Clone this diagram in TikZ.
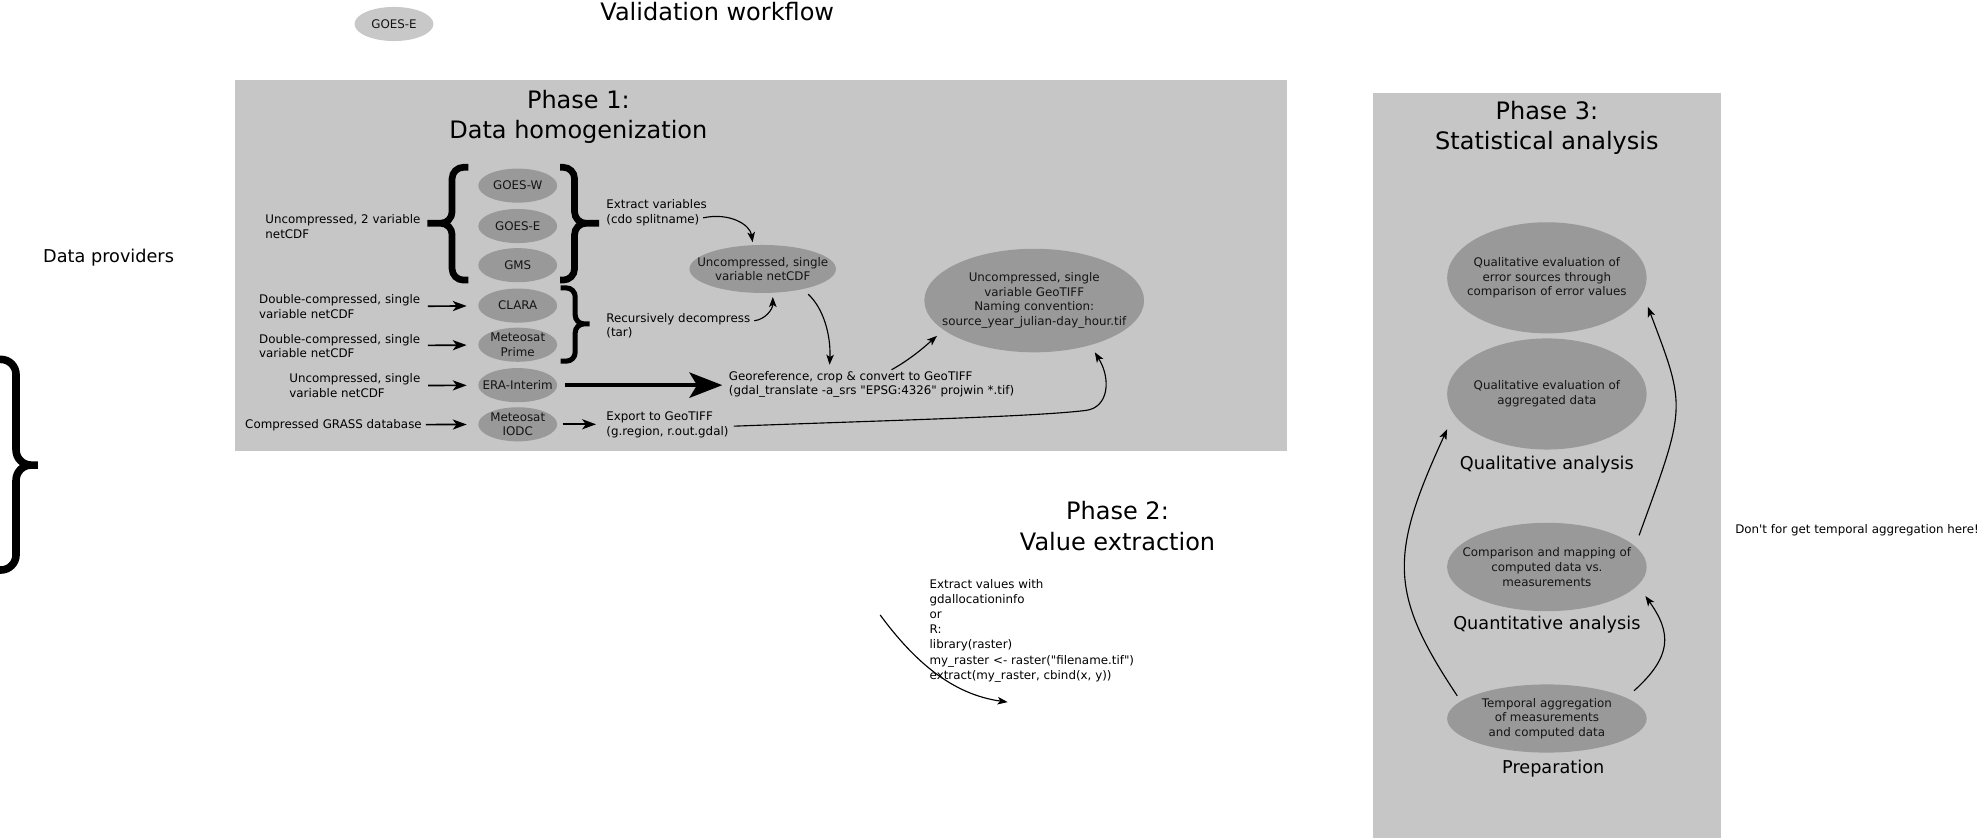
\documentclass[tikz,border=0pt]{standalone}
\usepackage{fontspec}
\setmainfont{DejaVu Sans}
\newfontfamily\dv{DejaVu Sans}
\usetikzlibrary{shapes.geometric,arrows.meta,calc}
\definecolor{boxgray}{HTML}{C6C6C6}
\definecolor{ellgray}{HTML}{999999}
\definecolor{lightell}{HTML}{C8C8C8}
\begin{document}
\begin{tikzpicture}[x=1pt,y=-1pt,
  txt/.style={font=\dv\fontsize{9.4}{11.6}\selectfont, inner sep=0pt, align=left, yshift=-1.5pt},
  ttl/.style={font=\dv\fontsize{19}{24}\selectfont, inner sep=0pt, align=center, yshift=-1.5pt},
  sub/.style={font=\dv\fontsize{14}{17}\selectfont, inner sep=0pt, yshift=-2pt},
  ell/.style={ellipse, fill=ellgray, inner sep=-8pt, minimum width=62.5pt, minimum height=27pt,
              font=\dv\fontsize{9.4}{11.6}\selectfont, align=center, text=black!92, yshift=-1pt},
  bigell/.style={ellipse, fill=ellgray, inner sep=-12pt, minimum width=158pt,
              font=\dv\fontsize{9.4}{11.6}\selectfont, align=center, text=black!92, yshift=-1pt},
  arr/.style={line width=0.9pt, -{Stealth[length=8pt,width=6pt,inset=2pt]}},
  larr/.style={line width=1.3pt, -{Stealth[length=11pt,width=8pt,inset=3pt]}, shorten >=9pt},
  bracestroke/.style={line width=5.3pt, rounded corners=9pt}
]
\useasboundingbox (0,0) rectangle (1568,663.6);

% backgrounds
\fill[boxgray] (186,63) rectangle (1019,357);
\fill[boxgray] (1087,74) rectangle (1362.5,663.6);

% top
\node[ell, fill=lightell] (goesTop) at (312,18) {GOES-E};
\node[ttl] (title) at (568,7.5) {Validation workflow};
\node[sub] (prov) at (86,202) {Data providers};
\draw[bracestroke, line width=6pt, rounded corners=12pt]
  (-6,284.6) -- (12.7,284.6) -- (12.7,368.3) -- (30,368.3)
  (30,368.3) -- (12.7,368.3) -- (12.7,451.4) -- (-6,451.4);

% Phase 1
\node[ttl] (p1) at (458,91) {Phase 1:\\Data homogenization};

\node[ell] (goesW) at (410,146) {GOES-W};
\node[ell] (goesE) at (410,178) {GOES-E};
\node[ell] (gms)   at (410,209) {GMS};
\node[ell] (clara) at (410,241) {CLARA};
\node[ell] (mprime) at (410,272) {Meteosat\\Prime};
\node[ell] (era)   at (410,304) {ERA-Interim};
\node[ell] (iodc)  at (410,335) {Meteosat\\IODC};

\node[txt, anchor=west] (l1) at (210,178) {Uncompressed, 2 variable\\netCDF};
\node[txt, anchor=west] (l2) at (205,241.5) {Double-compressed, single\\variable netCDF};
\node[txt, anchor=west] (l3) at (205,272.5) {Double-compressed, single\\variable netCDF};
\node[txt, anchor=west] (l4) at (229,304) {Uncompressed, single\\variable netCDF};
\node[txt, anchor=west] (l5) at (194,335) {Compressed GRASS database};

\draw[larr, shorten <=6pt] (l2) -- (clara);
\draw[larr, shorten <=6pt] (l3) -- (mprime);
\draw[larr, shorten <=6pt] (l4) -- (era);
\draw[larr, shorten <=3pt] (l5) -- (iodc);

% braces
\draw[bracestroke]
  (371,132.5) -- (358,132.5) -- (358,176.8) -- (338.5,176.8)
  (338.5,176.8) -- (358,176.8) -- (358,221.8) -- (371,221.8);
\draw[bracestroke]
  (443.5,132.5) -- (455,132.5) -- (455,176.8) -- (474.5,176.8)
  (474.5,176.8) -- (455,176.8) -- (455,221.8) -- (443.5,221.8);
\draw[bracestroke, line width=4pt, rounded corners=7pt]
  (444,228) -- (455.5,228) -- (455.5,256.5) -- (467,256.5)
  (467,256.5) -- (455.5,256.5) -- (455.5,286) -- (444,286);

\node[txt, anchor=west] (ext) at (480,167) {Extract variables\\(cdo splitname)};
\node[ell, minimum width=116pt, minimum height=38pt, inner sep=-12pt] (nc) at (604,212) {Uncompressed, single\\variable netCDF};
\node[txt, anchor=west] (dec) at (480,256.5) {Recursively decompress\\(tar)};
\node[txt, anchor=west] (geo) at (577,303) {Georeference, crop \& convert to GeoTIFF\\(gdal\_translate -a\_srs "EPSG:4326" projwin *.tif)};
\node[ell, minimum width=174pt, minimum height=82pt, inner sep=-12pt] (tif) at (819,237) {Uncompressed, single\\variable GeoTIFF\\Naming convention:\\source\_year\_julian-day\_hour.tif};
\node[txt, anchor=west] (exp) at (480,335) {Export to GeoTIFF\\(g.region, r.out.gdal)};

\draw[arr] ($(ext.east)+(-3,4)$) .. controls (578,168) and (594,178) .. ($(nc.north)+(-8,-2)$);
\draw[arr] ($(dec.east)+(3,-4)$) .. controls (606,253) and (612,245) .. ($(nc.south)+(8,3)$);
\draw[arr] ($(nc.center)+(36,20)$) .. controls (652,244) and (658,265) .. ($(geo.north west)+(80,-5)$);
\draw[arr] ($(geo.north west)+(129,-1)$) .. controls (722,284) and (734,273) .. ($(tif.center)+(-77,28)$);
\draw[arr] ($(exp.east)+(4,1)$) .. controls (700,333) and (820,330) .. (860,325)
           .. controls (878,322.7) and (880,300) .. ($(tif.center)+(48,41)$);
\draw[line width=3pt, -{Stealth[length=26pt,width=20pt,inset=6pt]}, shorten <=6pt, shorten >=5pt]
     (era.east) -- (era.east -| geo.west);
\draw[larr, shorten <=4pt, shorten >=8pt] (iodc) -- (iodc -| exp.west);

% Phase 2
\node[ttl] (p2) at (885,415) {Phase 2:\\Value extraction};
\node[txt, anchor=north west, font=\dv\fontsize{9.4}{12}\selectfont] (vals) at (736,457)
  {Extract values with\\gdallocationinfo\\or\\R:\\library(raster)\\my\_raster <- raster("filename.tif")\\extract(my\_raster, cbind(x, y))};
\coordinate (p2s) at (697,487);
\coordinate (p2e) at (798,556);
\draw[arr] (p2s) .. controls (725,525) and (755,550) .. (p2e);

% Phase 3
\node[ttl] (p3) at (1225,100) {Phase 3:\\Statistical analysis};
\node[bigell, minimum height=88pt] (e1) at (1225,219) {Qualitative evaluation of\\error sources through\\comparison of error values};
\node[bigell, minimum height=88pt] (e2) at (1225,311) {Qualitative evaluation of\\aggregated data};
\node[sub] (qual) at (1225,366) {Qualitative analysis};
\node[bigell, minimum height=70pt] (e3) at (1225,448) {Comparison and mapping of\\computed data vs.\\measurements};
\node[sub] (quan) at (1225,493) {Quantitative analysis};
\node[bigell, minimum height=54pt] (e4) at (1225,568) {Temporal aggregation\\of measurements\\and computed data};
\node[sub] (prep) at (1230,607) {Preparation};

\draw[arr] ($(e4.center)+(-71,-18)$) .. controls (1100,470) and (1100,440) .. ($(e2.center)+(-79,28)$);
\draw[arr] ($(e3.center)+(73,-25)$) .. controls (1335.5,321) and (1335.5,323.6) .. ($(e1.center)+(80,23)$);
\draw[arr] ($(e4.center)+(69,-22)$) .. controls (1324,520) and (1324,501.5) .. ($(e3.center)+(78,23)$);

\node[txt, anchor=west] (note) at (1374,418) {Don't for get temporal aggregation here!};
\end{tikzpicture}
\end{document}
